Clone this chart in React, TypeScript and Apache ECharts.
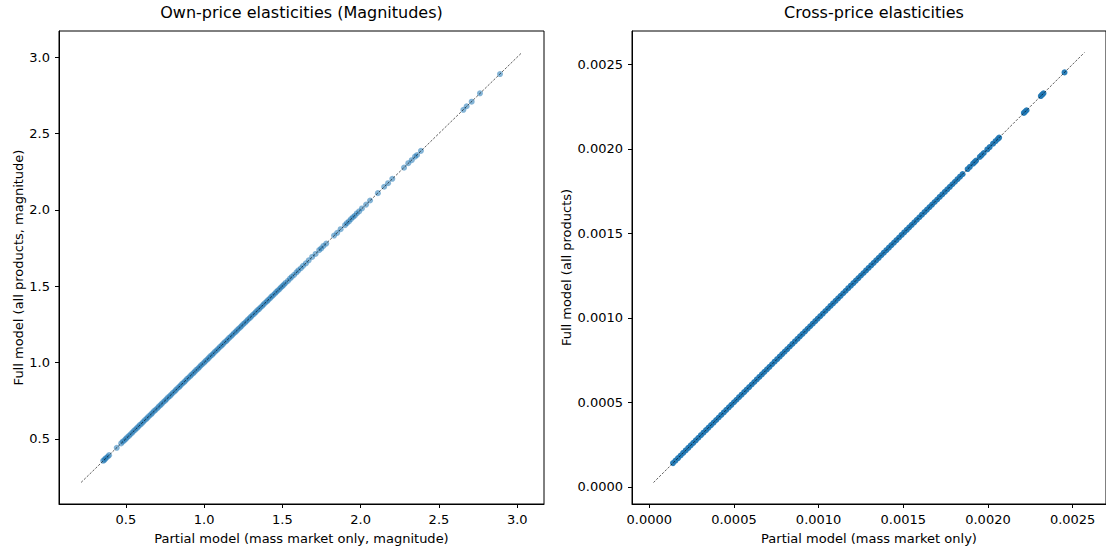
import React, { useEffect, useRef } from "react";
import * as echarts from "echarts";

// ---------- Own-price elasticities (magnitudes) ----------
const ownPartial = [
  0.355, 0.362, 0.368, 0.375, 0.385, 0.393, 0.442,
  0.470, 0.480, 0.491, 0.500, 0.509, 0.520, 0.530, 0.541, 0.550, 0.560,
  0.571, 0.580, 0.590, 0.601, 0.610, 0.620, 0.631, 0.640, 0.650, 0.661,
  0.670, 0.680, 0.690, 0.701, 0.710, 0.721, 0.730, 0.740, 0.751, 0.760,
  0.770, 0.781, 0.790, 0.800, 0.811, 0.820, 0.830, 0.841, 0.850, 0.860,
  0.871, 0.880, 0.890, 0.900, 0.911, 0.920, 0.931, 0.940, 0.950, 0.961,
  0.970, 0.980, 0.990, 1.001, 1.010, 1.021, 1.030, 1.040, 1.051, 1.060,
  1.070, 1.081, 1.090, 1.100, 1.111, 1.120, 1.130, 1.141, 1.150, 1.160,
  1.171, 1.180, 1.190, 1.201, 1.210, 1.220, 1.231, 1.240, 1.250, 1.261,
  1.270, 1.280, 1.291, 1.300, 1.310, 1.321, 1.330, 1.340, 1.351, 1.360,
  1.371, 1.380, 1.390, 1.401, 1.410, 1.421, 1.430, 1.440, 1.451, 1.460,
  1.470, 1.481, 1.490, 1.500, 1.510, 1.520,
  1.535, 1.548, 1.560, 1.575, 1.590, 1.602, 1.618, 1.632, 1.650, 1.668,
  1.690, 1.712, 1.735, 1.748, 1.762, 1.780, 1.830, 1.850, 1.872, 1.900,
  1.912, 1.925, 1.938, 1.950, 1.962, 1.975, 1.990, 2.008, 2.035, 2.060,
  2.110, 2.150, 2.175, 2.202, 2.277, 2.304, 2.326, 2.347, 2.360, 2.385,
  2.656, 2.677, 2.709, 2.762, 2.890,
];
const ownFull = [
  0.356, 0.361, 0.368, 0.376, 0.384, 0.393, 0.441,
  0.470, 0.481, 0.490, 0.500, 0.510, 0.519, 0.530, 0.540, 0.551, 0.560,
  0.570, 0.580, 0.591, 0.600, 0.610, 0.621, 0.630, 0.640, 0.651, 0.660,
  0.670, 0.681, 0.690, 0.700, 0.711, 0.720, 0.730, 0.741, 0.750, 0.760,
  0.771, 0.780, 0.790, 0.801, 0.810, 0.820, 0.831, 0.840, 0.850, 0.861,
  0.870, 0.880, 0.891, 0.900, 0.910, 0.921, 0.930, 0.940, 0.951, 0.960,
  0.970, 0.981, 0.990, 1.000, 1.011, 1.020, 1.030, 1.041, 1.050, 1.060,
  1.071, 1.080, 1.090, 1.101, 1.110, 1.120, 1.131, 1.140, 1.150, 1.161,
  1.170, 1.180, 1.191, 1.200, 1.210, 1.221, 1.230, 1.240, 1.251, 1.260,
  1.270, 1.281, 1.290, 1.300, 1.311, 1.320, 1.330, 1.341, 1.350, 1.360,
  1.370, 1.380, 1.391, 1.400, 1.410, 1.420, 1.431, 1.440, 1.450, 1.461,
  1.470, 1.480, 1.491, 1.500, 1.510, 1.521,
  1.534, 1.549, 1.561, 1.574, 1.590, 1.603, 1.617, 1.633, 1.649, 1.669,
  1.691, 1.711, 1.736, 1.747, 1.763, 1.779, 1.831, 1.849, 1.873, 1.899,
  1.913, 1.924, 1.939, 1.951, 1.961, 1.976, 1.989, 2.009, 2.034, 2.061,
  2.109, 2.151, 2.174, 2.203, 2.276, 2.305, 2.325, 2.348, 2.359, 2.386,
  2.655, 2.678, 2.708, 2.763, 2.889,
];
const ownRefLine = [0.214, 3.03];
const ownLimits = [0.073, 3.171];
const ownTicks = [0.5, 1.0, 1.5, 2.0, 2.5, 3.0];

// ---------- Cross-price elasticities ----------
const crossPartial = [
  0.000140, 0.000155, 0.000170, 0.000185, 0.000200, 0.000215, 0.000230, 0.000245, 0.000260, 0.000275,
  0.000290, 0.000305, 0.000320, 0.000335, 0.000350, 0.000365, 0.000380, 0.000395, 0.000410, 0.000425,
  0.000440, 0.000455, 0.000470, 0.000485, 0.000500, 0.000515, 0.000530, 0.000545, 0.000560, 0.000575,
  0.000590, 0.000605, 0.000620, 0.000635, 0.000650, 0.000665, 0.000680, 0.000695, 0.000710, 0.000725,
  0.000740, 0.000755, 0.000770, 0.000785, 0.000800, 0.000815, 0.000830, 0.000845, 0.000860, 0.000875,
  0.000890, 0.000905, 0.000920, 0.000935, 0.000950, 0.000965, 0.000980, 0.000995, 0.001010, 0.001025,
  0.001040, 0.001055, 0.001070, 0.001085, 0.001100, 0.001115, 0.001130, 0.001145, 0.001160, 0.001175,
  0.001190, 0.001205, 0.001220, 0.001235, 0.001250, 0.001265, 0.001280, 0.001295, 0.001310, 0.001325,
  0.001340, 0.001355, 0.001370, 0.001385, 0.001400, 0.001415, 0.001430, 0.001445, 0.001460, 0.001475,
  0.001490, 0.001505, 0.001520, 0.001535, 0.001550, 0.001565, 0.001580, 0.001595, 0.001610, 0.001625,
  0.001640, 0.001655, 0.001670, 0.001685, 0.001700, 0.001715, 0.001730, 0.001745, 0.001760, 0.001775,
  0.001790, 0.001805, 0.001820, 0.001835, 0.001850,
  0.001880, 0.001893, 0.001912, 0.001921, 0.001930, 0.001952, 0.001963, 0.001975, 0.001996,
  0.002010, 0.002030, 0.002045, 0.002058, 0.002066,
  0.002212, 0.002220, 0.002228, 0.002312, 0.002320, 0.002328, 0.002452,
];
const crossFull = [
  0.000140, 0.000155, 0.000170, 0.000185, 0.000200, 0.000215, 0.000230, 0.000245, 0.000260, 0.000275,
  0.000290, 0.000305, 0.000320, 0.000335, 0.000350, 0.000365, 0.000380, 0.000395, 0.000410, 0.000425,
  0.000440, 0.000455, 0.000470, 0.000485, 0.000500, 0.000515, 0.000530, 0.000545, 0.000560, 0.000575,
  0.000590, 0.000605, 0.000620, 0.000635, 0.000650, 0.000665, 0.000680, 0.000695, 0.000710, 0.000725,
  0.000740, 0.000755, 0.000770, 0.000785, 0.000800, 0.000815, 0.000830, 0.000845, 0.000860, 0.000875,
  0.000890, 0.000905, 0.000920, 0.000935, 0.000950, 0.000965, 0.000980, 0.000995, 0.001010, 0.001025,
  0.001040, 0.001055, 0.001070, 0.001085, 0.001100, 0.001115, 0.001130, 0.001145, 0.001160, 0.001175,
  0.001190, 0.001205, 0.001220, 0.001235, 0.001250, 0.001265, 0.001280, 0.001295, 0.001310, 0.001325,
  0.001340, 0.001355, 0.001370, 0.001385, 0.001400, 0.001415, 0.001430, 0.001445, 0.001460, 0.001475,
  0.001490, 0.001505, 0.001520, 0.001535, 0.001550, 0.001565, 0.001580, 0.001595, 0.001610, 0.001625,
  0.001640, 0.001655, 0.001670, 0.001685, 0.001700, 0.001715, 0.001730, 0.001745, 0.001760, 0.001775,
  0.001790, 0.001805, 0.001820, 0.001835, 0.001850,
  0.001880, 0.001893, 0.001912, 0.001921, 0.001930, 0.001952, 0.001963, 0.001975, 0.001996,
  0.002010, 0.002030, 0.002045, 0.002058, 0.002066,
  0.002212, 0.002220, 0.002228, 0.002312, 0.002320, 0.002328, 0.002452,
];
const crossRefLine = [0.000025, 0.00257];
const crossLimits = [-0.000102, 0.002697];
const crossTicks = [0.0, 0.0005, 0.001, 0.0015, 0.002, 0.0025];

const titles = ["Own-price elasticities (Magnitudes)", "Cross-price elasticities"];
const xNames = ["Partial model (mass market only, magnitude)", "Partial model (mass market only)"];
const yNames = ["Full model (all products, magnitude)", "Full model (all products)"];

const FONT = "DejaVu Sans";
const BLUE = "#1f77b4";
const LABEL_SIZE = 13;

function makeAxis(
  idx: number,
  limits: number[],
  ticks: number[],
  digits: number,
  name: string,
  gap: number
) {
  return {
    type: "value",
    gridIndex: idx,
    min: limits[0],
    max: limits[1],
    name,
    nameLocation: "middle",
    nameGap: gap,
    nameTextStyle: { fontFamily: FONT, fontSize: LABEL_SIZE, color: "#000" },
    axisLine: { show: true, onZero: false, lineStyle: { color: "#000", width: 1 } },
    axisTick: {
      show: true,
      inside: false,
      length: 4,
      customValues: ticks,
      lineStyle: { color: "#000", width: 1 },
    },
    axisLabel: {
      show: true,
      customValues: ticks,
      margin: 9,
      fontFamily: FONT,
      fontSize: LABEL_SIZE,
      color: "#000",
      formatter: (v: number) => Number(v).toFixed(digits),
    },
    splitLine: { show: false },
  };
}

export default function App() {
  const ref = useRef<HTMLDivElement>(null);

  useEffect(() => {
    if (!ref.current) return;
    const chart = echarts.init(ref.current, null, { renderer: "svg" });

    const ownData = ownPartial.map((x, i) => [x, ownFull[i]]);
    const crossData = crossPartial.map((x, i) => [x, crossFull[i]]);

    const option = {
      animation: false,
      backgroundColor: "#fff",
      grid: [
        { left: 59, top: 31, width: 485, height: 478, show: true, borderColor: "#000", borderWidth: 1, containLabel: false },
        { left: 632, top: 31, width: 484, height: 478, show: true, borderColor: "#000", borderWidth: 1, containLabel: false },
      ],
      xAxis: [
        makeAxis(0, ownLimits, ownTicks, 1, xNames[0], 28),
        makeAxis(1, crossLimits, crossTicks, 4, xNames[1], 28),
      ],
      yAxis: [
        makeAxis(0, ownLimits, ownTicks, 1, yNames[0], 33),
        makeAxis(1, crossLimits, crossTicks, 4, yNames[1], 59),
      ],
      graphic: [
        {
          type: "text",
          x: 301.5,
          y: 12,
          style: { text: titles[0], font: `16px '${FONT}'`, fill: "#000", align: "center", verticalAlign: "middle" },
        },
        {
          type: "text",
          x: 874,
          y: 12,
          style: { text: titles[1], font: `16px '${FONT}'`, fill: "#000", align: "center", verticalAlign: "middle" },
        },
      ],
      series: [
        {
          type: "scatter",
          xAxisIndex: 0,
          yAxisIndex: 0,
          data: ownData,
          symbol: "circle",
          symbolSize: 6,
          itemStyle: { color: BLUE, opacity: 0.55 },
          z: 2,
        },
        {
          type: "line",
          xAxisIndex: 0,
          yAxisIndex: 0,
          data: [
            [ownRefLine[0], ownRefLine[0]],
            [ownRefLine[1], ownRefLine[1]],
          ],
          symbol: "none",
          lineStyle: { color: "#000", width: 0.7, type: [2.5, 1.5], opacity: 0.9 },
          z: 3,
        },
        {
          type: "scatter",
          xAxisIndex: 1,
          yAxisIndex: 1,
          data: crossData,
          symbol: "circle",
          symbolSize: 6,
          itemStyle: { color: BLUE, opacity: 0.95 },
          z: 2,
        },
        {
          type: "line",
          xAxisIndex: 1,
          yAxisIndex: 1,
          data: [
            [crossRefLine[0], crossRefLine[0]],
            [crossRefLine[1], crossRefLine[1]],
          ],
          symbol: "none",
          lineStyle: { color: "#000", width: 0.7, type: [2.5, 1.5], opacity: 0.9 },
          z: 3,
        },
      ],
    };

    chart.setOption(option as any);
    return () => {
      chart.dispose();
    };
  }, []);

  return (
    <div
      ref={ref}
      style={{ position: "fixed", left: 0, top: 0, width: 1106, height: 550, background: "#fff" }}
    />
  );
}
